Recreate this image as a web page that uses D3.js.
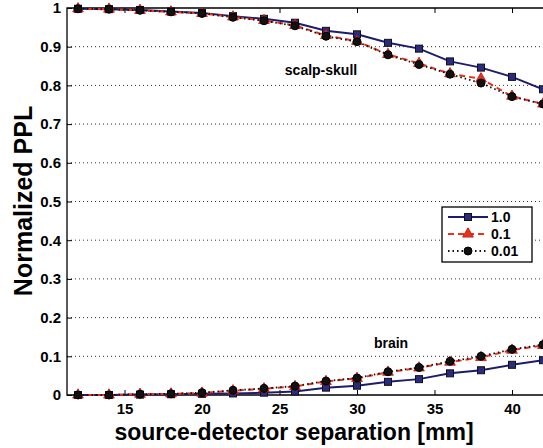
<!DOCTYPE html>
<html>
<head>
<meta charset="utf-8">
<script src="https://cdn.jsdelivr.net/npm/d3@7"></script>
<style>
  body { margin: 0; background: #fff; }
  text { font-family: "Liberation Sans", Arial, sans-serif; font-weight: bold; }
</style>
</head>
<body>
<script>
var separation = [12, 14, 16, 18, 20, 22, 24, 26, 28, 30, 32, 34, 36, 38, 40, 42];

// scalp-skull curves
var scalp10  = [0.998, 0.997, 0.995, 0.991, 0.987, 0.979, 0.972, 0.962, 0.941, 0.932, 0.910, 0.895, 0.862, 0.846, 0.822, 0.79];
var scalp01  = [0.998, 0.997, 0.994, 0.990, 0.986, 0.977, 0.968, 0.955, 0.929, 0.914, 0.880, 0.857, 0.830, 0.817, 0.772, 0.752];
var scalp001 = [0.998, 0.997, 0.994, 0.990, 0.986, 0.976, 0.967, 0.954, 0.927, 0.913, 0.879, 0.854, 0.829, 0.806, 0.771, 0.752];

// brain curves
var brain10  = [0.0, 0.0, 0.001, 0.002, 0.003, 0.004, 0.006, 0.009, 0.019, 0.024, 0.034, 0.041, 0.056, 0.064, 0.078, 0.09];
var brain01  = [0.0, 0.0, 0.002, 0.003, 0.005, 0.011, 0.016, 0.022, 0.035, 0.043, 0.059, 0.070, 0.085, 0.097, 0.116, 0.128];
var brain001 = [0.0, 0.0, 0.002, 0.003, 0.006, 0.012, 0.017, 0.023, 0.036, 0.044, 0.060, 0.071, 0.087, 0.100, 0.118, 0.13];

var xTicks = [15, 20, 25, 30, 35, 40];
var yTicks = [0, 0.1, 0.2, 0.3, 0.4, 0.5, 0.6, 0.7, 0.8, 0.9, 1];
var legendLabels = ['1.0', '0.1', '0.01'];

var width = 543, height = 448;
var plotLeft = 67, plotTop = 8, plotBottom = 395;
var plotRight = width + 5;

var svg = d3.select('body').append('svg')
  .attr('width', width)
  .attr('height', height);

var x = d3.scaleLinear().domain([10, 40]).range([47, 512]);
var y = d3.scaleLinear().domain([0, 1]).range([plotBottom, plotTop]);

svg.append('defs').append('clipPath').attr('id', 'plot')
  .append('rect').attr('x', plotLeft).attr('y', 0).attr('width', width - plotLeft).attr('height', plotBottom + 6);

// dotted horizontal grid
svg.append('g').selectAll('line')
  .data(yTicks.slice(1, -1))
  .enter().append('line')
  .attr('x1', plotLeft).attr('x2', plotRight)
  .attr('y1', function(d) { return y(d); })
  .attr('y2', function(d) { return y(d); })
  .style('stroke', '#333')
  .style('stroke-width', 1)
  .style('stroke-dasharray', '1,3');

// frame
svg.append('path')
  .attr('d', 'M' + plotRight + ',' + plotTop + 'H' + plotLeft + 'V' + plotBottom + 'H' + plotRight)
  .style('fill', 'none').style('stroke', '#000').style('stroke-width', 1.3);

// y axis
var yAxis = d3.axisLeft(y).tickValues(yTicks).tickSize(-5).tickPadding(6)
  .tickFormat(function(d) { return d === 0 || d === 1 ? d : d3.format('.1f')(d); });
var gy = svg.append('g').attr('transform', 'translate(' + plotLeft + ',0)').call(yAxis);
gy.select('.domain').remove();
gy.selectAll('text').style('font-size', '15px').style('fill', '#000');

// x axes (bottom + top ticks)
var xAxis = d3.axisBottom(x).tickValues(xTicks).tickSize(-5).tickPadding(8);
var gx = svg.append('g').attr('transform', 'translate(0,' + plotBottom + ')').call(xAxis);
gx.select('.domain').remove();
gx.selectAll('text').style('font-size', '15px').style('fill', '#000');

var gxt = svg.append('g').attr('transform', 'translate(0,' + plotTop + ')')
  .call(d3.axisTop(x).tickValues(xTicks).tickSize(-5).tickFormat(''));
gxt.select('.domain').remove();

var s10  = { vals: [scalp10, brain10], color: '#1c1c6e', dash: null, marker: 'square', width: 2 };
var s01  = { vals: [scalp01, brain01], color: '#e8321e', dash: '6,4', marker: 'triangle', width: 2 };
var s001 = { vals: [scalp001, brain001], color: '#111', dash: '1.5,3', marker: 'circle', width: 1.8 };
var series = [s10, s01, s001];

var line = d3.line()
  .x(function(d) { return x(d[0]); })
  .y(function(d) { return y(d[1]); });

var plot = svg.append('g').attr('clip-path', 'url(#plot)');

function drawMarker(g, type, cx, cy) {
  if (type === 'square') {
    g.append('rect').attr('x', cx - 3.5).attr('y', cy - 3.5).attr('width', 7).attr('height', 7)
      .style('fill', '#2a2a80').style('stroke', '#111').style('stroke-width', 1);
  } else if (type === 'triangle') {
    g.append('path').attr('d', d3.symbol().type(d3.symbolTriangle).size(50)())
      .attr('transform', 'translate(' + cx + ',' + cy + ')')
      .style('fill', '#e8321e').style('stroke', '#c01010').style('stroke-width', 0.8);
  } else {
    g.append('circle').attr('cx', cx).attr('cy', cy).attr('r', 4)
      .style('fill', '#111').style('stroke', '#000').style('stroke-width', 1);
  }
}

series.forEach(function(s) {
  s.vals.forEach(function(v) {
    var pts = separation.map(function(d, i) { return [d, v[i]]; });
    plot.append('path').datum(pts)
      .attr('d', line)
      .style('fill', 'none')
      .style('stroke', s.color)
      .style('stroke-width', s.width)
      .style('stroke-dasharray', s.dash);
    pts.forEach(function(p) { drawMarker(plot, s.marker, x(p[0]), y(p[1])); });
  });
});

// annotations
svg.append('text').attr('x', 321).attr('y', 75).attr('text-anchor', 'middle')
  .style('font-size', '14px').text('scalp-skull');
svg.append('text').attr('x', 391).attr('y', 348).attr('text-anchor', 'middle')
  .style('font-size', '14px').text('brain');

// axis titles
svg.append('text').attr('transform', 'translate(32,201) rotate(-90)').attr('text-anchor', 'middle')
  .style('font-size', '25px').text('Normalized PPL');
svg.append('text').attr('x', 294).attr('y', 440).attr('text-anchor', 'middle')
  .style('font-size', '23px').text('source-detector separation [mm]');

// legend
var lg = svg.append('g').attr('transform', 'translate(442,207)');
lg.append('rect').attr('width', 90).attr('height', 55)
  .style('fill', '#fff').style('stroke', '#000').style('stroke-width', 1.3);
legendLabels.forEach(function(lab, i) {
  var s = series[i];
  var ly = 10 + i * 17;
  lg.append('line').attr('x1', 6).attr('x2', 46).attr('y1', ly).attr('y2', ly)
    .style('stroke', s.color).style('stroke-width', s.width).style('stroke-dasharray', s.dash);
  drawMarker(lg, s.marker, 26, ly);
  lg.append('text').attr('x', 49).attr('y', ly + 5).style('font-size', '14px').text(lab);
});
</script>
</body>
</html>
